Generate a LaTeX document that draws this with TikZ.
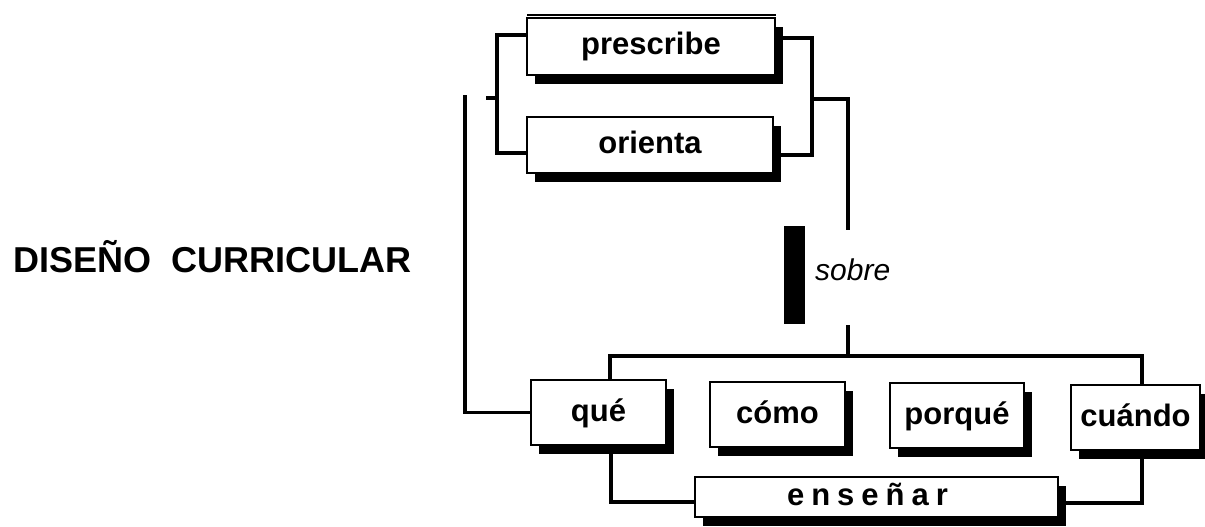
\documentclass[tikz,border=0pt]{standalone}
\usepackage{fontspec}
\setmainfont{Liberation Sans}
\usetikzlibrary{shadows,backgrounds}
\begin{document}
\begin{tikzpicture}[x=1pt,y=-1pt,
  box/.style={draw=black, line width=1.3pt, fill=white, inner sep=0pt,
    text height=23pt, text depth=6pt,
    font=\fontsize{31}{36}\selectfont\bfseries,
    drop shadow={shadow xshift=8pt, shadow yshift=-9pt, opacity=1, fill=black}},
  conn/.style={line width=3.5pt, line cap=rect},
  thinline/.style={line width=2pt}]
\useasboundingbox (0,0) rectangle (1205,527);

% title
\node[font=\fontsize{36}{42}\selectfont\bfseries, inner sep=0pt, anchor=base west] (title) at (13,272) {DISEÑO\ \ CURRICULAR};

% boxes
\node[box, minimum width=248, minimum height=57] (prescribe) at (651,46.5) {prescribe};
\node[box, minimum width=246, minimum height=56] (orienta) at (650,145) {orienta};
\node[box, minimum width=135, minimum height=65] (que) at (598.5,412.5) {qué};
\node[box, minimum width=135, minimum height=65] (como) at (777.5,414.5) {cómo};
\node[box, minimum width=134, minimum height=65] (porque) at (957,415.5) {porqué};
\node[box, minimum width=129, minimum height=65] (cuando) at (1135.5,417.5) {cuándo};
\node[box, minimum width=363, minimum height=40] (ensenar) at (876.5,497)
  {\kern-18pt e\kern7pt n\kern7pt s\kern7pt e\kern7pt ñ\kern7pt a\kern7pt r};

% black bar and label
\node[fill=black, inner sep=0pt, minimum width=21, minimum height=98] (bar) at (794.5,275) {};
\node[anchor=west, inner sep=3pt, font=\fontsize{30}{36}\selectfont\itshape] (sobre) at (812,270) {sobre};

% coordinates
\coordinate (topa) at (527,15);
\coordinate (topb) at (776,15);
\coordinate (lbt) at (497,35);
\coordinate (lbb) at (497,153);
\coordinate (lbm) at (497,98);
\coordinate (lbs) at (488,98);
\coordinate (rbt) at (812,38);
\coordinate (rbb) at (812,155);
\coordinate (rbm) at (812,99);
\coordinate (rc) at (848,99);
\coordinate (sb1) at (848,228);
\coordinate (sb2) at (848,327);
\coordinate (ht1) at (610,356);
\coordinate (htm) at (848,356);
\coordinate (ht2) at (1142,356);
\coordinate (ll) at (465,97);
\coordinate (bl) at (611,502);
\coordinate (br) at (1142,503);

\begin{scope}[on background layer]
  \draw[thinline] (topa) -- (topb);
  \draw[conn] (prescribe.west |- lbt) -- (lbt) -- (lbb) -- (orienta.west |- lbb);
  \draw[conn] (lbm) -- (lbs);
  \draw[conn] (prescribe.east |- rbt) -- (rbt) -- (rbb) -- (orienta.east |- rbb);
  \draw[conn] (rbm) -- (rc) -- (sb1);
  \draw[conn] (sb2) -- (htm);
  \draw[conn] (que.north -| ht1) -- (ht1) -- (ht2) -- (cuando.north -| ht2);
  \draw[conn] (ll) |- (que.west);
  \draw[conn] (que.south -| bl) -- (bl) -- (ensenar.west |- bl);
  \draw[conn] (cuando.south -| br) -- (br) -- (ensenar.east |- br);
\end{scope}
\end{tikzpicture}
\end{document}
